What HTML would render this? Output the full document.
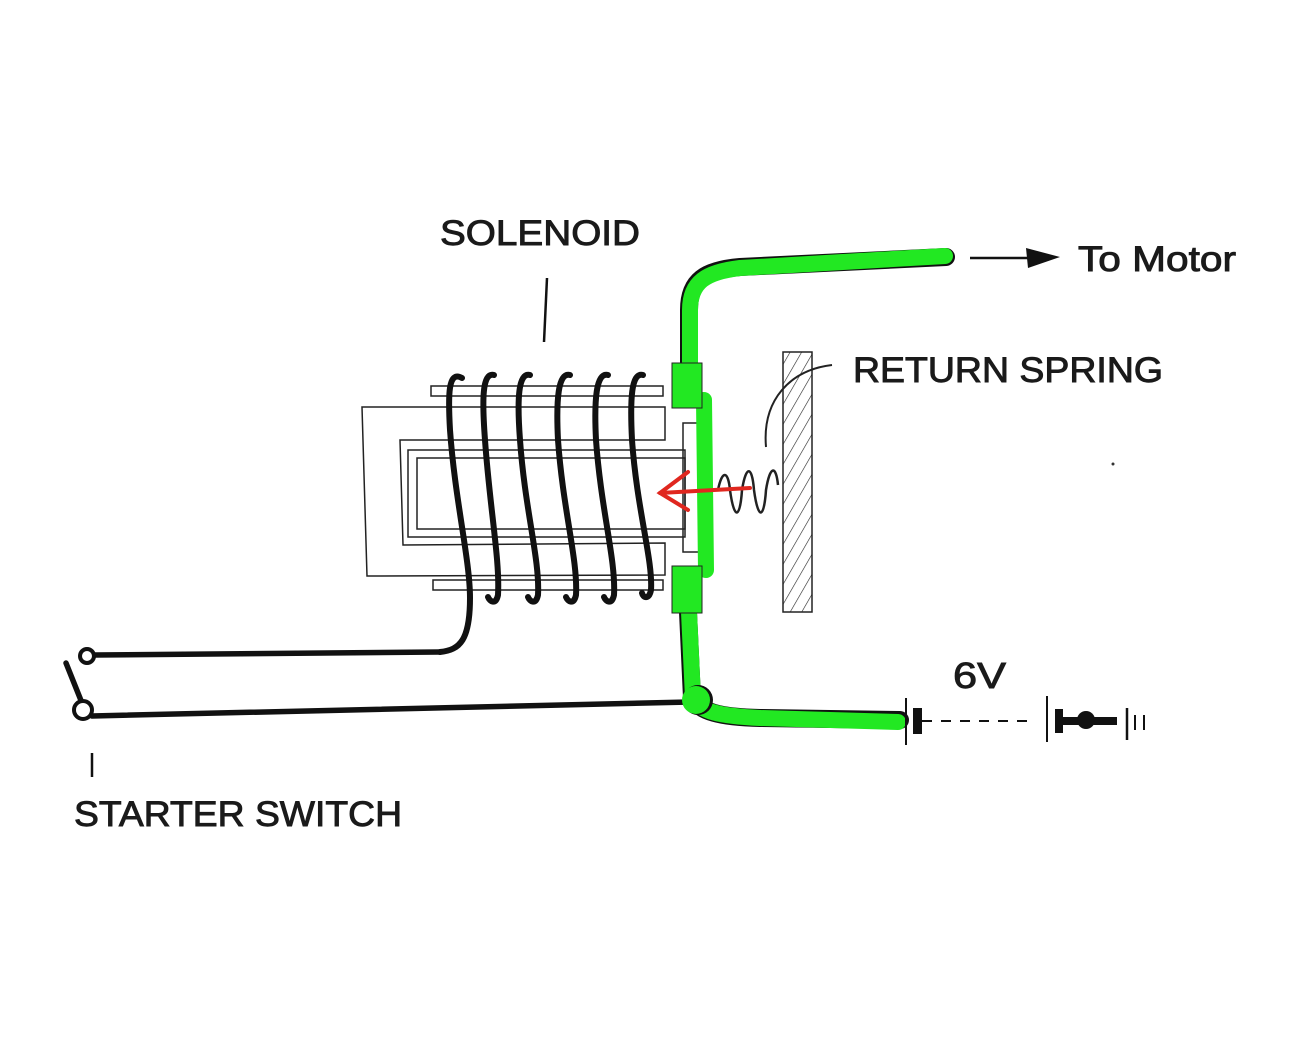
<!DOCTYPE html>
<html><head><style>
html,body{margin:0;padding:0;background:#fff;}
svg{display:block;}
text{font-family:"Liberation Sans",sans-serif;fill:#1a1a1a;stroke:#1a1a1a;stroke-width:0.9;}
</style></head><body>
<svg width="1301" height="1040" viewBox="0 0 1301 1040" xmlns="http://www.w3.org/2000/svg">
<defs>
<pattern id="h" width="10" height="10" patternUnits="userSpaceOnUse" patternTransform="rotate(30)">
<line x1="0" y1="0" x2="0" y2="10" stroke="#222" stroke-width="1.2"/>
</pattern>
</defs>
<rect width="1301" height="1040" fill="#fff"/>
<text x="440" y="245" font-size="35" textLength="200" lengthAdjust="spacingAndGlyphs">SOLENOID</text>
<line x1="547" y1="278" x2="544" y2="342" stroke="#111" stroke-width="2.5"/>
<text x="1078" y="271" font-size="35" textLength="158" lengthAdjust="spacingAndGlyphs">To Motor</text>
<text x="853" y="382" font-size="35" textLength="310" lengthAdjust="spacingAndGlyphs">RETURN SPRING</text>
<text x="953" y="688" font-size="36" textLength="53" lengthAdjust="spacingAndGlyphs">6V</text>
<text x="74" y="826" font-size="35" textLength="328" lengthAdjust="spacingAndGlyphs">STARTER SWITCH</text>
<line x1="92" y1="753" x2="92" y2="777" stroke="#111" stroke-width="2.5"/>
<path d="M970 258 L1030 258" stroke="#111" stroke-width="2.5" fill="none"/>
<path d="M1026 248 L1060 257 L1028 268 Z" fill="#111"/>
<g fill="none" stroke="#222" stroke-width="1.5">
<path d="M362 407 L665 407 L665 440 L400 440 L403 545 L665 543 L665 575 L367 576 Z"/>
<rect x="408" y="450" width="277" height="87"/>
<rect x="417" y="458" width="268" height="71"/>
<rect x="431" y="386" width="232" height="10"/>
<rect x="433" y="580" width="230" height="10"/>
<rect x="683" y="423" width="19" height="129"/>
<rect x="783" y="352" width="29" height="260" fill="url(#h)"/>
<path d="M766 447 C762 400 790 370 832 365" stroke-width="2"/>
</g>
<path d="M718 490 C722 470 728 470 730 490 C734 520 740 520 742 490 C746 465 752 465 754 490 C758 520 764 520 766 490 C770 465 776 465 778 485" fill="none" stroke="#222" stroke-width="2.5"/>
<g fill="none" stroke="#111" stroke-width="6" stroke-linecap="round">
<path d="M462 378 C448 370 448 395 450 430 C455 500 470 560 470 598 C470 640 460 650 440 652"/>
<path d="M494 375 C482 372 482 400 485 440 C490 510 500 560 498 595 C496 605 490 602 488 597"/>
<path d="M530 375 C518 372 517 400 520 440 C525 510 540 560 538 595 C536 605 530 602 528 597"/>
<path d="M570 375 C558 372 556 400 558 440 C563 510 578 560 576 595 C574 605 568 602 566 597"/>
<path d="M608 375 C596 372 594 400 596 440 C601 510 616 560 614 595 C612 605 606 602 604 597"/>
<path d="M643 375 C631 372 630 400 632 440 C637 510 653 560 651 590 C649 600 643 598 642 593"/>
</g>
<g fill="none" stroke="#111" stroke-width="5.5" stroke-linecap="round">
<path d="M440 652 L95 655"/>
<path d="M92 716 L690 702"/>
<line x1="66" y1="663" x2="82" y2="703"/>
</g>
<circle cx="87" cy="656" r="7" fill="#fff" stroke="#111" stroke-width="4"/>
<circle cx="83" cy="710" r="9" fill="#fff" stroke="#111" stroke-width="4"/>
<g fill="none" stroke="#111" stroke-width="18" stroke-linecap="round" stroke-linejoin="round">
<path d="M689 365 L689 310 C689 280 705 270 740 267 L946 257"/>
<path d="M688 612 L692 698 C700 712 720 717 760 718 L900 720"/>
</g>
<g fill="none" stroke="#22e822" stroke-width="16" stroke-linecap="round" stroke-linejoin="round">
<path d="M690 365 L690 310 C690 282 706 272 740 268 L945 256"/>
<path d="M689 612 L693 698 C700 712 720 716 760 718 L898 722"/>
<path d="M704 400 L706 570"/>
</g>
<g fill="#22e822" stroke="#222" stroke-width="1">
<rect x="672" y="363" width="30" height="45"/>
<rect x="672" y="566" width="30" height="47"/>
</g>
<circle cx="698" cy="700" r="15" fill="#111"/>
<circle cx="696" cy="700" r="14" fill="#22e822"/>
<g fill="none" stroke="#e0271f" stroke-width="4" stroke-linecap="round">
<path d="M750 488 L660 493"/>
<path d="M688 472 L660 493 L688 510"/>
</g>
<line x1="906" y1="698" x2="906" y2="745" stroke="#111" stroke-width="2"/>
<rect x="913" y="708" width="9" height="26" fill="#111"/>
<line x1="922" y1="721" x2="1032" y2="721" stroke="#111" stroke-width="2" stroke-dasharray="10,9"/>
<line x1="1047" y1="696" x2="1047" y2="742" stroke="#111" stroke-width="2"/>
<rect x="1055" y="709" width="8" height="24" fill="#111"/>
<rect x="1060" y="717" width="57" height="8" fill="#111"/>
<circle cx="1086" cy="720" r="9" fill="#111"/>
<line x1="1127" y1="708" x2="1127" y2="740" stroke="#111" stroke-width="2.5"/>
<line x1="1135" y1="715" x2="1135" y2="730" stroke="#111" stroke-width="2"/>
<line x1="1144" y1="715" x2="1144" y2="730" stroke="#111" stroke-width="2"/>
<circle cx="1113" cy="464" r="1.5" fill="#333"/>
</svg>
</body></html>
